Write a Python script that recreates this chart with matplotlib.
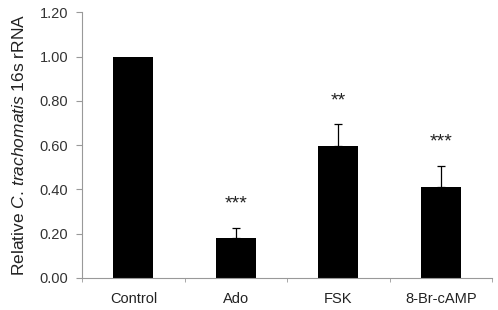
import matplotlib.pyplot as plt
import numpy as np

plt.rcParams['font.family'] = ['Liberation Sans', 'DejaVu Sans']
plt.rcParams['mathtext.fontset'] = 'custom'
plt.rcParams['mathtext.rm'] = 'Liberation Sans'
plt.rcParams['mathtext.it'] = 'Liberation Sans:italic'

groups = ["Control", "Ado", "FSK", "8-Br-cAMP"]
means = [1.00, 0.18, 0.595, 0.41]
errs = [0.0, 0.047, 0.10, 0.097]
stars = ["", "***", "**", "***"]

fig = plt.figure(figsize=(4.98, 3.10), dpi=100)
ax = fig.add_axes([0.165, 0.104, 0.823, 0.856])

x = np.arange(len(groups))
ax.bar(x, means, width=0.39, color="black", zorder=2)
ax.errorbar(x[1:], means[1:], yerr=[np.zeros(3), errs[1:]], fmt="none",
            ecolor="black", elinewidth=0.9, capsize=3, capthick=0.9, zorder=3)

for xi, m, e, s in zip(x, means, errs, stars):
    if s:
        ax.text(xi, m + e + 0.105, s, ha="center", va="center", fontsize=14, color="#222222")

ax.set_xlim(-0.5, 3.5)
ax.set_ylim(0, 1.2)
ax.set_yticks(np.arange(0, 1.21, 0.2))
ax.set_yticklabels([f"{v:.2f}" for v in np.arange(0, 1.21, 0.2)])
ax.set_xticks(x)
ax.set_xticklabels(groups)
ax.set_xticks(np.arange(-0.5, 3.6, 1), minor=True)
ax.tick_params(axis="x", which="major", length=0, pad=10.5, labelsize=10.5, labelcolor="#222222")
ax.tick_params(axis="x", which="minor", length=3, direction="out", color="#999999")
ax.tick_params(axis="y", length=4, direction="out", color="#999999", labelsize=10.5,
               labelcolor="#333333", pad=6)

for side in ["top", "right"]:
    ax.spines[side].set_visible(False)
for side in ["left", "bottom"]:
    ax.spines[side].set_color("#999999")
    ax.spines[side].set_linewidth(0.8)

ax.set_ylabel(r"Relative $\it{C.\,trachomatis}$ 16s rRNA", fontsize=12.5, color="#222222", labelpad=9)

fig.savefig("out.png", dpi=100)
